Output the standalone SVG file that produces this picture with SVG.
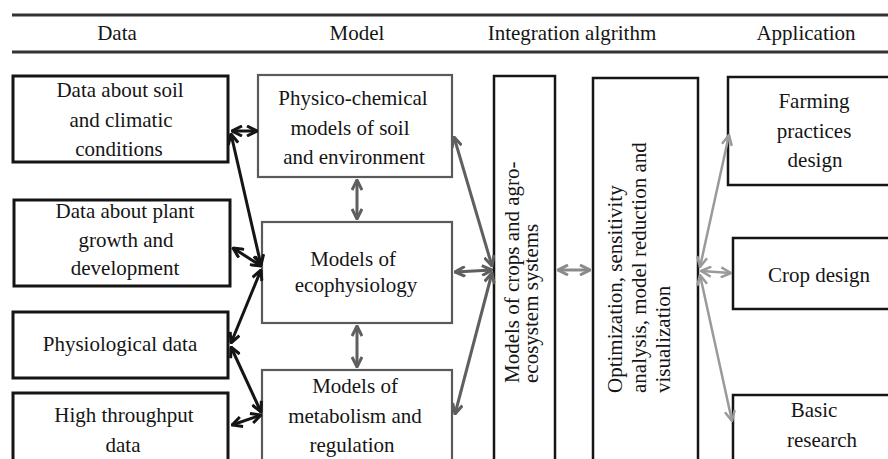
<svg xmlns="http://www.w3.org/2000/svg" width="888" height="459" viewBox="0 0 888 459">
<style>
text{font-family:"Liberation Serif","Times New Roman",serif;font-size:21px;fill:#151515}
.c{text-anchor:middle}
.s{text-anchor:start}
.db{fill:#fff;stroke:#151515;stroke-width:3}
.mb{fill:#fff;stroke:#5a5a5a;stroke-width:2.2}
.vb{fill:#fff;stroke:#151515;stroke-width:2.5}
.ab{fill:#fff;stroke:#151515;stroke-width:2.5}
.hl{stroke:#333;stroke-width:3}
.k{stroke:#151515;stroke-width:3;fill:none;marker-start:url(#mk);marker-end:url(#mk)}
.g{stroke:#5f5f5f;stroke-width:3;fill:none;marker-start:url(#mg);marker-end:url(#mg)}
.l{stroke:#8a8a8a;stroke-width:3;fill:none;marker-start:url(#ml);marker-end:url(#ml)}
.p{stroke:#9a9a9a;stroke-width:2.5;fill:none;marker-start:url(#mp);marker-end:url(#mp)}
</style>
<defs>
<marker id="mk" viewBox="0 0 12 12" refX="11" refY="6" markerWidth="12" markerHeight="12" markerUnits="userSpaceOnUse" orient="auto-start-reverse"><path d="M1,1 L11,6 L1,11" fill="none" stroke="#151515" stroke-width="3"/></marker>
<marker id="mg" viewBox="0 0 12 12" refX="11" refY="6" markerWidth="12" markerHeight="12" markerUnits="userSpaceOnUse" orient="auto-start-reverse"><path d="M1,1 L11,6 L1,11" fill="none" stroke="#5f5f5f" stroke-width="3"/></marker>
<marker id="ml" viewBox="0 0 12 12" refX="11" refY="6" markerWidth="12" markerHeight="12" markerUnits="userSpaceOnUse" orient="auto-start-reverse"><path d="M1,1 L11,6 L1,11" fill="none" stroke="#8a8a8a" stroke-width="3"/></marker>
<marker id="mp" viewBox="0 0 12 12" refX="11" refY="6" markerWidth="12" markerHeight="12" markerUnits="userSpaceOnUse" orient="auto-start-reverse"><path d="M1,1 L11,6 L1,11" fill="none" stroke="#9a9a9a" stroke-width="2.5"/></marker>
</defs>
<rect width="888" height="459" fill="#fff"/>
<g id="header">
<line class="hl" x1="12" y1="15" x2="888" y2="15"/>
<line class="hl" x1="12" y1="52" x2="888" y2="52"/>
<text class="c" x="117" y="40">Data</text>
<text class="c" x="357" y="40">Model</text>
<text class="c" x="572" y="40">Integration algrithm</text>
<text class="c" x="806" y="40">Application</text>
</g>
<g id="data-soil">
<rect class="db" x="13" y="76" width="215" height="86"/>
<text class="c" x="120" y="97">Data about soil</text>
<text class="c" x="121" y="127">and climatic</text>
<text class="c" x="119" y="156">conditions</text>
</g>
<g id="data-plant">
<rect class="db" x="14" y="200" width="216" height="86"/>
<text class="c" x="125" y="218">Data about plant</text>
<text class="c" x="126" y="247">growth and</text>
<text class="c" x="125" y="275">development</text>
</g>
<g id="data-physio">
<rect class="db" x="13" y="312" width="215" height="66"/>
<text class="c" x="120" y="351">Physiological data</text>
</g>
<g id="data-high">
<rect class="db" x="13" y="393" width="215" height="80"/>
<text class="c" x="124" y="422">High throughput</text>
<text class="c" x="123" y="452">data</text>
</g>
<g id="model-physico">
<rect class="mb" x="258" y="75" width="194" height="102"/>
<text class="c" x="353" y="105">Physico-chemical</text>
<text class="c" x="350" y="135">models of soil</text>
<text class="c" x="354" y="164">and environment</text>
</g>
<g id="model-ecophys">
<rect class="mb" x="262" y="222" width="190" height="101"/>
<text class="c" x="353" y="266">Models of</text>
<text class="c" x="356" y="292">ecophysiology</text>
</g>
<g id="model-metab">
<rect class="mb" x="262" y="370" width="190" height="100"/>
<text class="c" x="355" y="393">Models of</text>
<text class="c" x="355" y="423">metabolism and</text>
<text class="c" x="352" y="452">regulation</text>
</g>
<g id="crops-systems">
<rect class="vb" x="494" y="76" width="61" height="395"/>
<text class="s" transform="translate(519,383) rotate(-90)">Models of crops and agro-</text>
<text class="s" transform="translate(538,383) rotate(-90)">ecosystem systems</text>
</g>
<g id="optimization">
<rect class="vb" x="593" y="78" width="105" height="393"/>
<text class="s" transform="translate(622,393) rotate(-90)">Optimization, sensitivity</text>
<text class="s" transform="translate(646,393) rotate(-90)">analysis, model reduction and</text>
<text class="s" transform="translate(670,393) rotate(-90)">visualization</text>
</g>
<g id="app-farming">
<rect class="ab" x="728" y="77" width="170" height="108"/>
<text class="c" x="814" y="108">Farming</text>
<text class="c" x="814" y="138">practices</text>
<text class="c" x="815" y="167">design</text>
</g>
<g id="app-crop">
<rect class="ab" x="733" y="238" width="165" height="71"/>
<text class="c" x="819" y="282">Crop design</text>
</g>
<g id="app-basic">
<rect class="ab" x="733" y="395" width="165" height="80"/>
<text class="c" x="814" y="417">Basic</text>
<text class="c" x="822" y="447">research</text>
</g>
<g id="connectors">
<line class="k" x1="232" y1="131" x2="257" y2="131"/>
<line class="k" x1="231" y1="134" x2="261" y2="265"/>
<line class="k" x1="233" y1="248" x2="261" y2="266"/>
<line class="k" x1="231" y1="343" x2="261" y2="270"/>
<line class="k" x1="231" y1="347" x2="261" y2="412"/>
<line class="k" x1="232" y1="425" x2="261" y2="415"/>
<line class="g" x1="357" y1="180" x2="357" y2="219"/>
<line class="g" x1="357" y1="326" x2="357" y2="367"/>
<line class="g" x1="454" y1="137" x2="492" y2="266"/>
<line class="g" x1="455" y1="272" x2="492" y2="270"/>
<line class="g" x1="455" y1="414" x2="492" y2="273"/>
<line class="l" x1="558" y1="270" x2="590" y2="270"/>
<line class="p" x1="700" y1="267" x2="729" y2="135"/>
<line class="p" x1="701" y1="271" x2="731" y2="273"/>
<line class="p" x1="700" y1="275" x2="732" y2="421"/>
</g>
</svg>
